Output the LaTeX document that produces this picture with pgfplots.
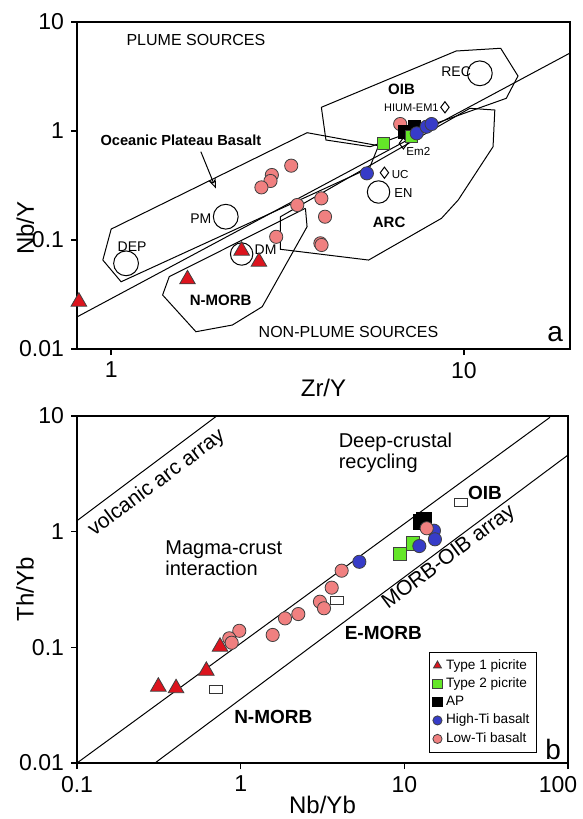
\documentclass[border=0pt]{standalone}
\usepackage{fontspec}
\setmainfont{Liberation Sans}
\usepackage{pgfplots}
\pgfplotsset{compat=1.18}
\usetikzlibrary{arrows.meta}

\definecolor{picA}{RGB}{220,20,30}
\definecolor{picB}{RGB}{100,230,40}
\definecolor{hiti}{RGB}{55,60,200}
\definecolor{loti}{RGB}{240,128,128}

\pgfplotsset{
  fld/.style={black, line width=0.5pt, forget plot},
  refpt/.style={only marks, mark=o, black, line width=0.5pt, forget plot},
  pA/.style={only marks, mark=triangle*, mark size=4.5pt, mark options={fill=picA, draw=black!75, line width=0.4pt}},
  pB/.style={only marks, mark=square*, mark size=3pt, mark options={fill=picB, draw=black!75, line width=0.4pt}},
  pAP/.style={only marks, mark=square*, mark size=3.2pt, mark options={fill=black, draw=black, line width=0.4pt}},
  pH/.style={only marks, mark=*, mark size=3.3pt, mark options={fill=hiti, draw=black!75, line width=0.4pt}},
  pL/.style={only marks, mark=*, mark size=3.3pt, mark options={fill=loti, draw=black!75, line width=0.4pt}},
}

\begin{document}
\begin{tikzpicture}
\useasboundingbox (0,0) rectangle (291.5pt,-409.5pt);

% ---------------- panel a ----------------
\begin{axis}[
  scale only axis,
  xmode=log, ymode=log,
  axis line style={line width=0.9pt},
  tick align=outside,
  xtick pos=bottom, ytick pos=left,
  major tick length=3pt,
  tick style={black, line width=0.8pt},
  xminorticks=false, yminorticks=false,
  tick label style={font=\fontsize{11.5}{14}\selectfont},
  label style={font=\fontsize{12}{14}\selectfont},
  at={(38.5pt,-11pt)}, anchor=north west,
  width=246.5pt, height=163.5pt,
  xmin=0.8, xmax=20, ymin=0.01, ymax=10,
  xtick={1,10}, xticklabels={1,10},
  ytick={0.01,0.1,1,10}, yticklabels={0.01,0.1,1,10},
  xlabel={Zr/Y}, ylabel={Nb/Y},
  xlabel style={at={(axis description cs:0.5,-0.119)}, anchor=center},
  ylabel style={at={(axis description cs:-0.105,0.37)}, anchor=center},
]
% dNb = 0 line
\addplot[fld] coordinates {(0.8,0.0197) (20,5.19)};
% OPB
\addplot[fld] coordinates {(1.0,0.126) (3.593,0.965) (5.73,0.733) (5.40,0.4575) (1.067,0.0414) (0.947,0.0655) (1.0,0.126)};
% OIB
\addplot[fld] coordinates {(3.945,1.650) (9.51,5.42) (12.72,5.74) (14.24,3.196) (13.19,1.995) (5.43,0.718) (4.064,0.827) (3.945,1.650)};
% ARC
\addplot[fld] coordinates {(3.02,0.1636) (10.40,1.615) (12.24,1.558) (12.10,0.718) (9.64,0.233) (8.64,0.158) (5.37,0.0655) (3.02,0.0822) (3.02,0.1636)};
% N-MORB
\addplot[fld] coordinates {(3.555,0.1954) (3.593,0.1324) (2.681,0.02444) (2.206,0.0166) (1.739,0.01441) (1.399,0.0313) (1.461,0.0461) (3.555,0.1954)};
% arrow
\addplot[fld, -{Stealth[length=5pt, width=4pt, open]}] coordinates {(1.796,0.646) (1.98,0.298)};
% reference reservoirs
\addplot[refpt, mark size=6.2pt] coordinates {(11.10,3.383) (2.113,0.1636) (1.102,0.0611)};
\addplot[refpt, mark size=5.6pt] coordinates {(2.344,0.0744) (5.73,0.2757)};
\addplot[refpt, mark=diamond, mark size=2.8pt] coordinates {(8.84,1.650) (6.74,0.771) (5.955,0.4144)};

% samples
\addplot[pL] coordinates {(6.60,1.159) (3.24,0.481) (2.855,0.395) (2.83,0.348) (2.667,0.304)
  (3.37,0.2095) (3.945,0.241) (4.04,0.1636) (3.92,0.0933) (3.95,0.090) (2.937,0.107)};
\addplot[pAP] coordinates {(6.78,0.985) (7.24,1.095)};
\addplot[pB] coordinates {(5.93,0.776) (7.11,0.887)};
\addplot[pH] coordinates {(5.31,0.409) (7.35,0.952) (7.84,1.095) (8.10,1.159)};
\addplot[pA] coordinates {(0.810,0.0272) (1.646,0.0436) (2.344,0.0798) (2.624,0.0632)};

% labels
\node[font=\fontsize{8}{9}\selectfont] at (axis cs:1.739,6.84) {PLUME SOURCES};
\node[font=\fontsize{8}{9}\selectfont] at (axis cs:4.71,0.0144) {NON-PLUME SOURCES};
\node[font=\bfseries\fontsize{7.3}{8}\selectfont] at (axis cs:1.577,0.815) {Oceanic Plateau Basalt};
\node[font=\bfseries\fontsize{7.5}{8}\selectfont] at (axis cs:6.66,2.414) {OIB};
\node[font=\bfseries\fontsize{7.5}{8}\selectfont] at (axis cs:6.14,0.144) {ARC};
\node[font=\bfseries\fontsize{7.5}{8}\selectfont] at (axis cs:2.045,0.0282) {N-MORB};
\node[font=\fontsize{7}{8}\selectfont] at (axis cs:9.51,3.48) {REC};
\node[font=\fontsize{5.5}{6}\selectfont] at (axis cs:7.10,1.626) {HIUM-EM1};
\node[font=\fontsize{5.8}{6}\selectfont] at (axis cs:7.43,0.646) {Em2};
\node[font=\fontsize{5.8}{6}\selectfont] at (axis cs:6.60,0.403) {UC};
\node[font=\fontsize{6.5}{7}\selectfont] at (axis cs:6.74,0.270) {EN};
\node[font=\fontsize{7}{8}\selectfont] at (axis cs:1.796,0.158) {PM};
\node[font=\fontsize{7}{8}\selectfont] at (axis cs:1.146,0.0868) {DEP};
\node[font=\fontsize{7}{8}\selectfont] at (axis cs:2.741,0.081) {DM};
\node[font=\fontsize{14}{15}\selectfont] at (rel axis cs:0.97,0.045) {a};
\end{axis}

% ---------------- panel b ----------------
\begin{axis}[
  scale only axis,
  xmode=log, ymode=log,
  axis line style={line width=0.9pt},
  tick align=outside,
  xtick pos=bottom, ytick pos=left,
  major tick length=3pt,
  tick style={black, line width=0.8pt},
  xminorticks=false, yminorticks=false,
  tick label style={font=\fontsize{11.5}{14}\selectfont},
  label style={font=\fontsize{12}{14}\selectfont},
  at={(38.5pt,-208pt)}, anchor=north west,
  width=245.5pt, height=173.5pt,
  xmin=0.1, xmax=100, ymin=0.01, ymax=10,
  xtick={0.1,1,10,100}, xticklabels={0.1,1,10,\hspace*{-10pt}100},
  ytick={0.01,0.1,1,10}, yticklabels={0.01,0.1,1,10},
  xlabel={Nb/Yb}, ylabel={Th/Yb},
  xlabel style={at={(axis description cs:0.5,-0.121)}, anchor=center},
  ylabel style={at={(axis description cs:-0.106,0.5)}, anchor=center},
  legend style={at={(0.937,0.029)}, anchor=south east, draw=black, line width=0.6pt,
    font=\fontsize{6.8}{8}\selectfont, inner sep=1.5pt, row sep=-1.2pt},
  legend image code/.code={\draw[#1, mark size=2.3pt] plot coordinates {(0.15cm,0cm)};},
  legend cell align=left,
]
\addplot[fld] coordinates {(0.1,1.244) (0.714,10)};
\addplot[fld] coordinates {(0.1,0.01) (77.6,9.74)};
\addplot[fld] coordinates {(0.2997,0.01) (100,4.6)};
\addplot[only marks, mark=square, mark size=2pt, mark options={xscale=1.6, draw=black!80, line width=0.5pt}, forget plot]
  coordinates {(0.707,0.0428) (3.89,0.2565) (22.2,1.78)};

\addplot[pA] coordinates {(0.314,0.0457) (0.403,0.0443) (0.617,0.0627) (0.748,0.1013)};
\addlegendentry{Type 1 picrite}
\addplot[pB, mark size=3.3pt] coordinates {(9.41,0.641) (11.25,0.793)};
\addlegendentry{Type 2 picrite}
\addplot[pAP, mark size=3.6pt] coordinates {(12.65,1.21) (13.2,1.28)};
\addlegendentry{AP}
\addplot[pH] coordinates {(5.31,0.549) (12.35,0.751) (15.17,1.02) (15.38,0.859)};
\addlegendentry{High-Ti basalt}
\addplot[pL] coordinates {(13.7,1.07) (4.14,0.46) (3.60,0.328) (3.05,0.248) (3.23,0.2176)
  (2.25,0.194) (1.866,0.178) (1.569,0.128) (0.981,0.139) (0.852,0.1197) (0.881,0.1096)};
\addlegendentry{Low-Ti basalt}

\node[rotate=36.7, font=\fontsize{10.5}{12}\selectfont] at (axis cs:0.307,2.62) {volcanic arc array};
\node[rotate=36.7, font=\fontsize{10.5}{12}\selectfont] at (axis cs:18.75,0.598) {MORB-OIB array};
\node[anchor=west, align=left, font=\fontsize{10}{10.5}\selectfont] at (axis cs:0.314,0.592) {Magma-crust\\interaction};
\node[anchor=west, align=left, font=\fontsize{10}{10.5}\selectfont] at (axis cs:3.60,4.76) {Deep-crustal\\recycling};
\node[font=\bfseries\fontsize{9.5}{10}\selectfont] at (axis cs:31.1,2.17) {OIB};
\node[font=\bfseries\fontsize{9.5}{10}\selectfont] at (axis cs:7.44,0.134) {E-MORB};
\node[font=\bfseries\fontsize{9.5}{10}\selectfont] at (axis cs:1.583,0.0251) {N-MORB};
\node[font=\fontsize{14}{15}\selectfont] at (rel axis cs:0.97,0.04) {b};
\end{axis}
\end{tikzpicture}
\end{document}
